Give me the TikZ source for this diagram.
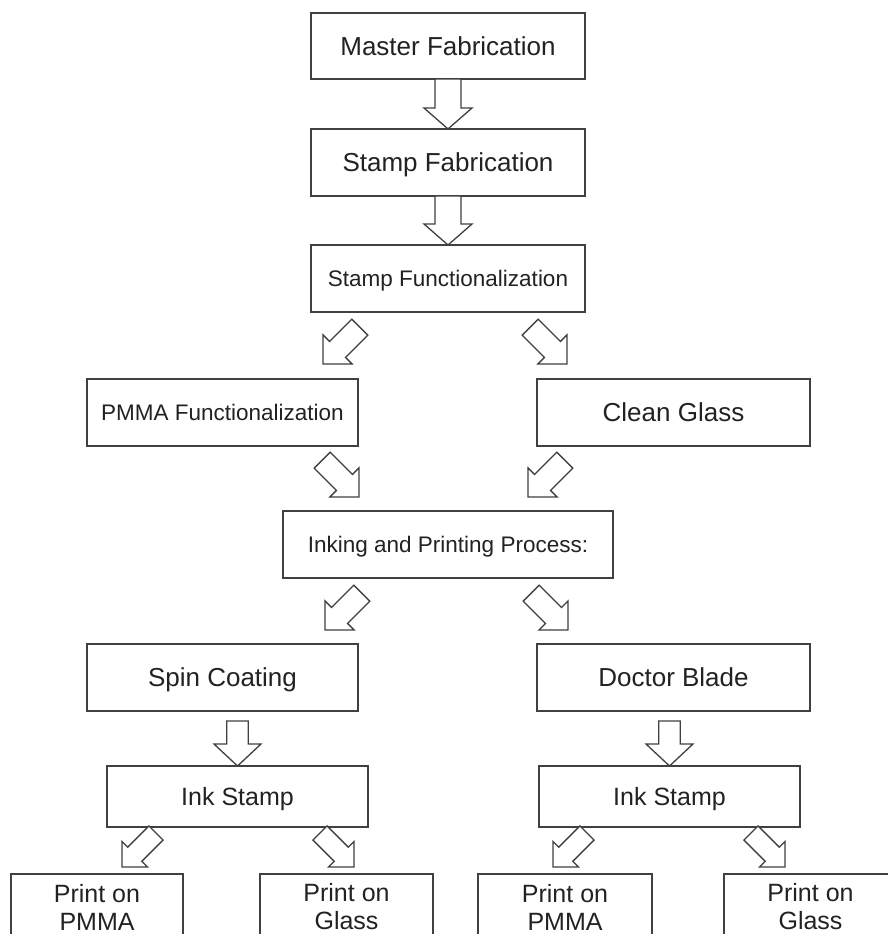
\documentclass[tikz,border=0pt]{standalone}
\usepackage{fontspec}
\setmainfont{Liberation Sans}
\usetikzlibrary{calc}
\definecolor{linec}{HTML}{404040}
\definecolor{txtc}{HTML}{222222}
\tikzset{
  box/.style={draw=linec, line width=1.3pt, fill=white, rectangle, inner sep=0pt, outer sep=0pt, text=txtc, align=center},
  bigtxt/.style={font=\fontsize{26}{29}\selectfont, text height=18.6pt, text depth=0pt},
  midtxt/.style={font=\fontsize{25}{28}\selectfont, text height=17.9pt, text depth=0pt},
  prtxt/.style={font=\fontsize{25}{28}\selectfont},
  smalltxt/.style={font=\fontsize{22.5}{26}\selectfont, text height=16.1pt, text depth=0pt},
  barrow/.style={draw=linec, line width=1.3pt, fill=white, line join=miter},
}
% #1 tail, #2 tip, #3 shaft half width, #4 head half width, #5 head length
\newcommand\blockarrow[5]{%
  \draw[barrow] let \p1=(#1), \p2=(#2), \n1={atan2(\y2-\y1,\x2-\x1)}, \n2={veclen(\x2-\x1,\y2-\y1)} in
  [shift={(\x1,\y1)}, rotate=\n1]
  (0pt,#3pt) -- (\n2-#5pt,#3pt) -- (\n2-#5pt,#4pt) -- (\n2,0pt) -- (\n2-#5pt,-#4pt) -- (\n2-#5pt,-#3pt) -- (0pt,-#3pt) -- cycle;}
\begin{document}
\begin{tikzpicture}[x=1pt,y=-1pt]
\useasboundingbox[fill=white] (0,0) rectangle (888,934);

\node[box,bigtxt,minimum width=274pt,minimum height=66pt] (mf) at (448,46) {Master Fabrication};
\node[box,bigtxt,minimum width=274pt,minimum height=67pt] (sfab) at (448,162.5) {Stamp Fabrication};
\node[box,smalltxt,minimum width=274pt,minimum height=67pt] (sfun) at (448,278.5) {Stamp Functionalization};
\node[box,smalltxt,minimum width=271pt,minimum height=67pt] (pmma) at (222.5,412.5) {PMMA Functionalization};
\node[box,bigtxt,minimum width=273pt,minimum height=67pt] (clean) at (673.5,412.5) {Clean Glass};
\node[box,smalltxt,minimum width=330pt,minimum height=67pt] (ink) at (448,544.5) {Inking and Printing Process:};
\node[box,bigtxt,minimum width=271pt,minimum height=67pt] (spin) at (222.5,677.5) {Spin Coating};
\node[box,bigtxt,minimum width=273pt,minimum height=67pt] (doctor) at (673.5,677.5) {Doctor Blade};
\node[box,midtxt,minimum width=261pt,minimum height=61pt] (is1) at (237.5,796.5) {Ink Stamp};
\node[box,midtxt,minimum width=261pt,minimum height=61pt] (is2) at (669.5,796.5) {Ink Stamp};
\node[box,prtxt,minimum width=172pt,minimum height=66pt] (pr1) at (97,907) {Print on\\PMMA};
\node[box,prtxt,minimum width=173pt,minimum height=66pt] (pr2) at (346.5,907) {Print on\\Glass};
\node[box,prtxt,minimum width=174pt,minimum height=66pt] (pr3) at (565,907) {Print on\\PMMA};
\node[box,prtxt,minimum width=173pt,minimum height=66pt] (pr4) at (810.5,907) {Print on\\Glass};

\coordinate (a1t) at (359.8,327.2); \coordinate (a1h) at (323,364);
\coordinate (a2t) at (530.2,327.2); \coordinate (a2h) at (567,364);
\coordinate (a3t) at (322.2,460.2); \coordinate (a3h) at (359,497);
\coordinate (a4t) at (564.8,460.2); \coordinate (a4h) at (528,497);
\coordinate (a5t) at (361.8,593.2); \coordinate (a5h) at (325,630);
\coordinate (a6t) at (531.2,593.2); \coordinate (a6h) at (568,630);
\coordinate (a7t) at (156,833); \coordinate (a7h) at (122,867);
\coordinate (a8t) at (320,833); \coordinate (a8h) at (354,867);
\coordinate (a9t) at (587,833); \coordinate (a9h) at (553,867);
\coordinate (a10t) at (751,833); \coordinate (a10h) at (785,867);
\coordinate (v3t) at ($(is1.north)+(0,-45)$);
\coordinate (v4t) at ($(is2.north)+(0,-45)$);

\blockarrow{mf.south}{sfab.north}{13}{24}{21}
\blockarrow{sfab.south}{sfun.north}{13}{24}{21}
\blockarrow{a1t}{a1h}{11.3}{20.5}{20.5}
\blockarrow{a2t}{a2h}{11.3}{20.5}{20.5}
\blockarrow{a3t}{a3h}{11.3}{20.5}{20.5}
\blockarrow{a4t}{a4h}{11.3}{20.5}{20.5}
\blockarrow{a5t}{a5h}{11.3}{20.5}{20.5}
\blockarrow{a6t}{a6h}{11.3}{20.5}{20.5}
\blockarrow{v3t}{is1.north}{10.8}{23.5}{22}
\blockarrow{v4t}{is2.north}{10.8}{23.5}{22}
\blockarrow{a7t}{a7h}{10}{18}{18}
\blockarrow{a8t}{a8h}{10}{18}{18}
\blockarrow{a9t}{a9h}{10}{18}{18}
\blockarrow{a10t}{a10h}{10}{18}{18}
\end{tikzpicture}
\end{document}
